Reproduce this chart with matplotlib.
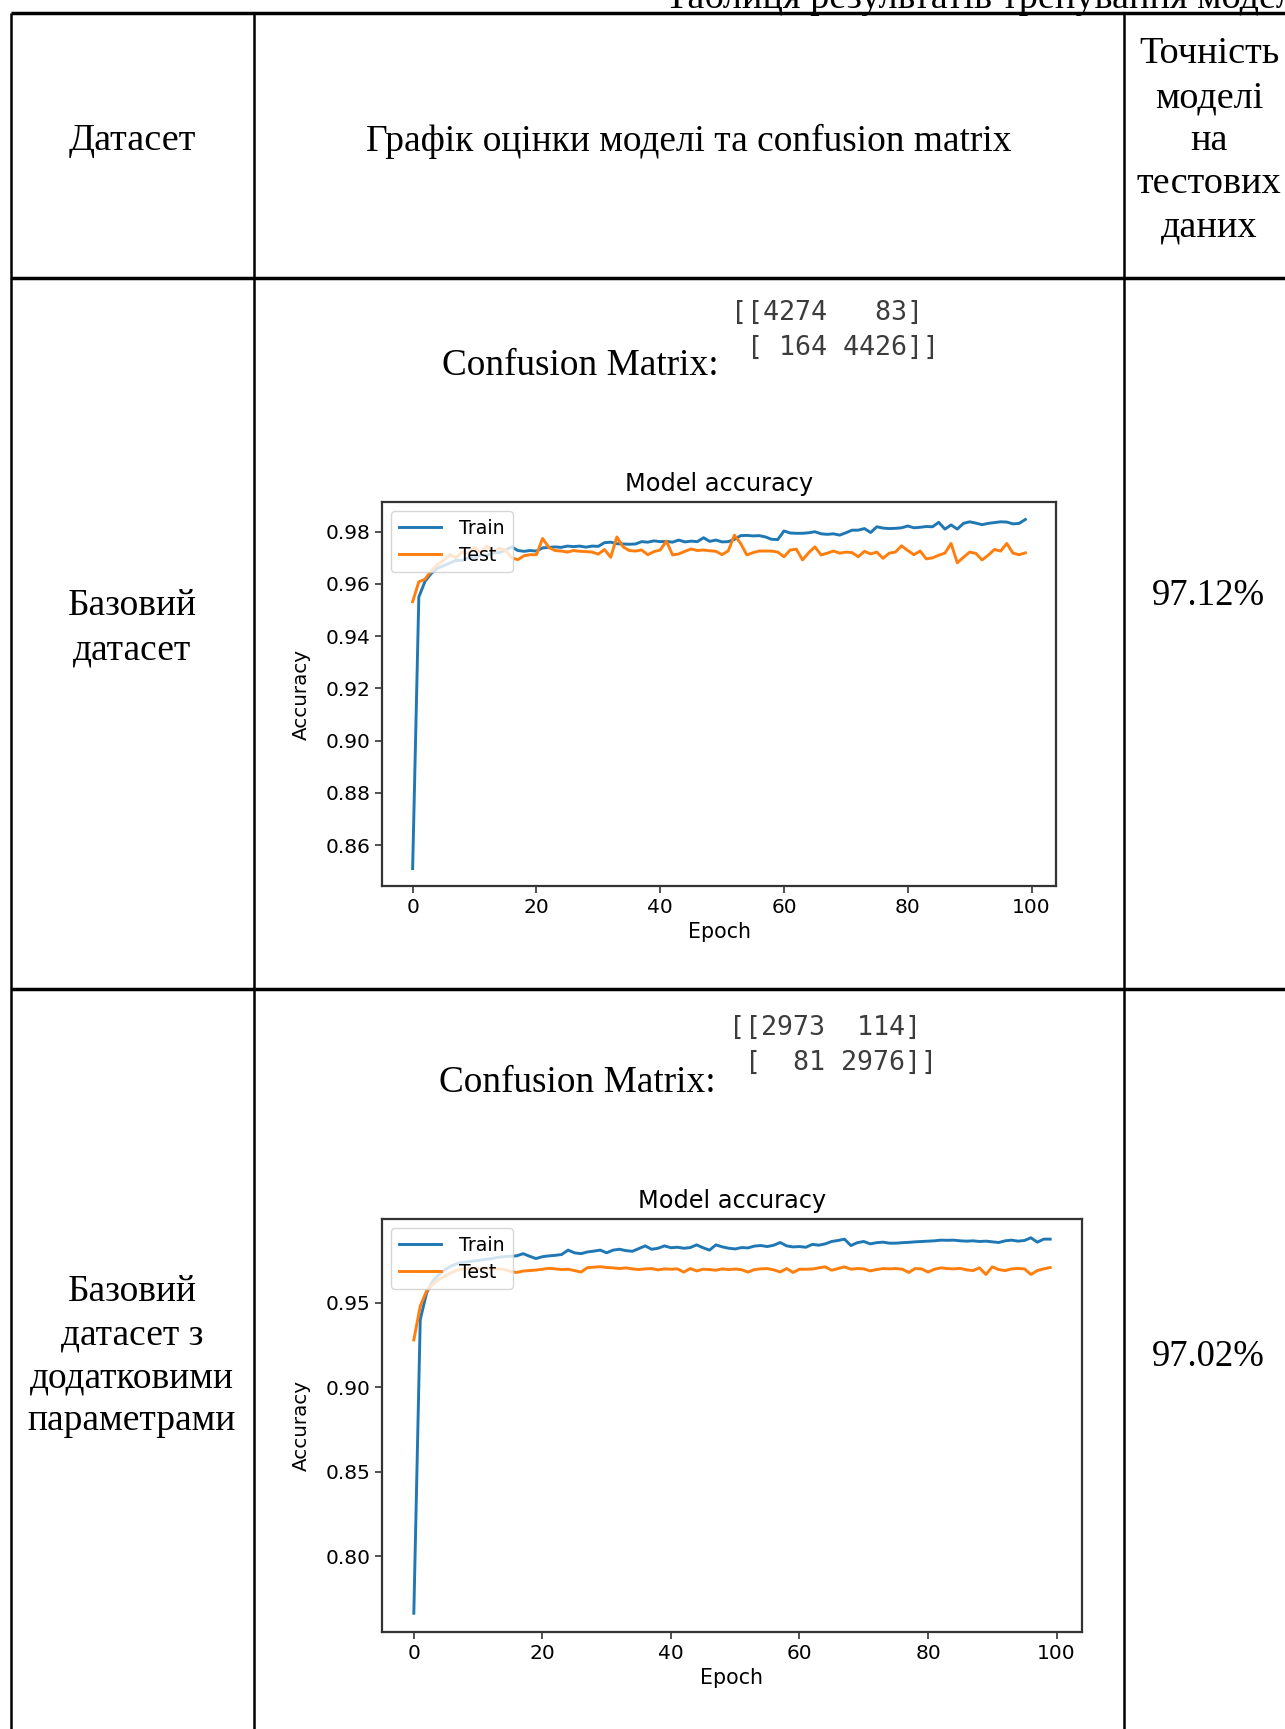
#!/usr/bin/env python3
"""
Results table: two training runs, each with its confusion matrix and the
train/test accuracy curves, laid out like the table in the report.
"""

import numpy as np
import matplotlib.pyplot as plt

# ---- data ----
epochs = np.arange(100)

train_base = [
    0.851, 0.955, 0.961, 0.964, 0.966, 0.967, 0.968, 0.969, 0.969, 0.970,
    0.970, 0.971, 0.971, 0.972, 0.972, 0.973, 0.9742, 0.9728, 0.9725, 0.9728,
    0.9726, 0.9738, 0.9740, 0.9742, 0.9740, 0.9745, 0.9743, 0.9745, 0.9741, 0.9745,
    0.9744, 0.9758, 0.9760, 0.9754, 0.9753, 0.9752, 0.9753, 0.9762, 0.9760, 0.9765,
    0.9762, 0.9763, 0.9760, 0.9768, 0.9761, 0.9764, 0.9762, 0.9777, 0.9763, 0.9768,
    0.9761, 0.9762, 0.9771, 0.9785, 0.9786, 0.9784, 0.9785, 0.9780, 0.9771, 0.9770,
    0.9803, 0.9795, 0.9794, 0.9794, 0.9796, 0.9800, 0.9792, 0.9790, 0.9792, 0.9787,
    0.9796, 0.9806, 0.9806, 0.9812, 0.9797, 0.9819, 0.9814, 0.9812, 0.9813, 0.9815,
    0.9822, 0.9815, 0.9817, 0.9820, 0.9819, 0.9836, 0.9810, 0.9826, 0.9810, 0.9832,
    0.9838, 0.9833, 0.9827, 0.9832, 0.9835, 0.9838, 0.9837, 0.9830, 0.9832, 0.9847,
]
test_base = [
    0.9532, 0.9608, 0.9618, 0.9650, 0.9675, 0.9690, 0.9712, 0.9700, 0.9722, 0.9718,
    0.9740, 0.9720, 0.9745, 0.9725, 0.9736, 0.9730, 0.9700, 0.9693, 0.9708, 0.9712,
    0.9712, 0.9774, 0.9740, 0.9728, 0.9726, 0.9722, 0.9728, 0.9725, 0.9724, 0.9722,
    0.9714, 0.9732, 0.9702, 0.9780, 0.9742, 0.9728, 0.9726, 0.9730, 0.9712, 0.9724,
    0.9730, 0.9764, 0.9711, 0.9715, 0.9725, 0.9734, 0.9728, 0.9730, 0.9727, 0.9725,
    0.9712, 0.9727, 0.9787, 0.9755, 0.9711, 0.9720, 0.9726, 0.9726, 0.9726, 0.9722,
    0.9704, 0.9730, 0.9733, 0.9692, 0.9720, 0.9742, 0.9711, 0.9718, 0.9726, 0.9718,
    0.9722, 0.9720, 0.9704, 0.9725, 0.9715, 0.9722, 0.9698, 0.9718, 0.9722, 0.9746,
    0.9728, 0.9712, 0.9726, 0.9696, 0.9700, 0.9710, 0.9718, 0.9755, 0.9681, 0.9702,
    0.9722, 0.9717, 0.9692, 0.9710, 0.9732, 0.9726, 0.9755, 0.9718, 0.9712, 0.9719,
]
train_extra = [
    0.7663, 0.940, 0.956, 0.963, 0.967, 0.970, 0.972, 0.9735, 0.974, 0.9745,
    0.975, 0.9755, 0.976, 0.9768, 0.9772, 0.9775, 0.9777, 0.9790, 0.9775, 0.9761,
    0.9772, 0.9777, 0.9780, 0.9785, 0.9811, 0.9795, 0.9790, 0.9800, 0.9805, 0.9811,
    0.9795, 0.9811, 0.9816, 0.9808, 0.9804, 0.9820, 0.9836, 0.9816, 0.9822, 0.9836,
    0.9825, 0.9828, 0.9822, 0.9826, 0.9842, 0.9825, 0.9811, 0.9842, 0.9830, 0.9822,
    0.9818, 0.9826, 0.9824, 0.9835, 0.9838, 0.9832, 0.9840, 0.9856, 0.9836, 0.9830,
    0.9832, 0.9828, 0.9845, 0.9840, 0.9848, 0.9862, 0.9868, 0.9876, 0.9838, 0.9855,
    0.9862, 0.9848, 0.9855, 0.9858, 0.9852, 0.9852, 0.9855, 0.9857, 0.9860, 0.9862,
    0.9864, 0.9866, 0.9870, 0.9869, 0.9870, 0.9866, 0.9864, 0.9866, 0.9862, 0.9864,
    0.9860, 0.9856, 0.9866, 0.9870, 0.9864, 0.9868, 0.9884, 0.9858, 0.9876, 0.9876,
]
test_extra = [
    0.928, 0.948, 0.957, 0.961, 0.964, 0.966, 0.968, 0.9695, 0.9700, 0.9702,
    0.9700, 0.9705, 0.9702, 0.9700, 0.9698, 0.9685, 0.9679, 0.9687, 0.9690, 0.9693,
    0.9698, 0.9703, 0.9700, 0.9696, 0.9698, 0.9690, 0.9681, 0.9707, 0.9710, 0.9713,
    0.9708, 0.9706, 0.9702, 0.9706, 0.9700, 0.9696, 0.9700, 0.9702, 0.9694, 0.9700,
    0.9698, 0.9700, 0.9681, 0.9702, 0.9688, 0.9698, 0.9696, 0.9692, 0.9700, 0.9696,
    0.9699, 0.9695, 0.9681, 0.9696, 0.9700, 0.9702, 0.9694, 0.9682, 0.9702, 0.9679,
    0.9698, 0.9698, 0.9699, 0.9706, 0.9712, 0.9692, 0.9702, 0.9712, 0.9698, 0.9702,
    0.9700, 0.9688, 0.9696, 0.9702, 0.9700, 0.9702, 0.9698, 0.9679, 0.9702, 0.9700,
    0.9681, 0.9698, 0.9706, 0.9702, 0.9700, 0.9703, 0.9694, 0.9690, 0.9706, 0.9667,
    0.9712, 0.9696, 0.9690, 0.9700, 0.9702, 0.9700, 0.9667, 0.9690, 0.9700, 0.9708,
]

conf_base = ["[[4274   83]", " [ 164 4426]]"]
conf_extra = ["[[2973  114]", " [  81 2976]]"]

yticks_base = [0.86, 0.88, 0.90, 0.92, 0.94, 0.96, 0.98]
yticks_extra = [0.80, 0.85, 0.90, 0.95]
xticks = [0, 20, 40, 60, 80, 100]

row_names = [["Базовий", "датасет"],
             ["Базовий", "датасет з", "додатковими", "параметрами"]]
accuracy_text = ["97.12%", "97.02%"]

# ---- page geometry (pixels) ----
W, H = 1285, 1729
SERIF = "Liberation Serif"
FS = 27.5  # table text size


def px_rect(x0, y0, x1, y1):
    """pixel box (top-left origin) -> figure fraction rect"""
    return [x0 / W, 1 - y1 / H, (x1 - x0) / W, (y1 - y0) / H]


def accuracy_plot(fig, rect, train, test, yticks):
    ax = fig.add_axes(px_rect(*rect))
    ax.plot(epochs, train, color="#1f77b4", lw=2.1, label="Train")
    ax.plot(epochs, test, color="#ff7f0e", lw=2.1, label="Test")
    ax.set_title("Model accuracy", fontsize=17.3, pad=8)
    ax.set_xlabel("Epoch", fontsize=14.8)
    ax.set_ylabel("Accuracy", fontsize=14.3, labelpad=10)
    ax.set_xticks(xticks)
    ax.set_yticks(yticks)
    ax.tick_params(labelsize=14.5, length=5, width=1.2, color="#333333")
    for s in ax.spines.values():
        s.set_linewidth(1.6)
        s.set_color("#333333")
    ax.legend(loc="upper left", fontsize=13.6, labelspacing=0.4,
              handlelength=2.2, handletextpad=1.0, borderaxespad=0.5)
    return ax


fig = plt.figure(figsize=(W / 100, H / 100), dpi=100)

# background layer in pixel coordinates for the table
bg = fig.add_axes([0, 0, 1, 1])
bg.set_xlim(0, W)
bg.set_ylim(H, 0)
bg.axis("off")

# table grid
bg.hlines([13, 278, 989], 11, W, color="black", lw=2.5)
bg.vlines([11, 254, 1124], 13, H, color="black", lw=1.8)

# caption, cut by the top edge like in the scan
bg.text(665, 8, "Таблиця результатів тренування моделі", family=SERIF,
        fontsize=FS, ha="left", va="baseline")

# header row
bg.text(132, 141, "Датасет", family=SERIF, fontsize=FS, ha="center", va="center")
bg.text(689, 141, "Графік оцінки моделі та confusion matrix", family=SERIF,
        fontsize=26.9, ha="center", va="center")
for txt, yy in zip(["Точність", "моделі", "на", "тестових", "даних"],
                   [54, 98, 141, 184, 227]):
    bg.text(1209, yy, txt, family=SERIF, fontsize=FS, ha="center", va="center")

# first column and last column per row
for names, ys in zip(row_names, [[606, 650], [1292, 1335, 1378, 1421]]):
    for txt, yy in zip(names, ys):
        bg.text(132, yy, txt, family=SERIF, fontsize=27, ha="center", va="center")
for txt, yy in zip(accuracy_text, [596, 1357]):
    bg.text(1208, yy, txt, family=SERIF, fontsize=26.5, ha="center", va="center")

# confusion matrices
for lines, y_label, ys, x_lab, x_m in [(conf_base, 375, [313, 348], 442, 731),
                                       (conf_extra, 1092, [1028, 1063], 439, 729)]:
    bg.text(x_lab, y_label, "Confusion Matrix:", family=SERIF, fontsize=26.8,
            ha="left", va="baseline")
    for txt, yy in zip(lines, ys):
        bg.text(x_m, yy, txt, family="DejaVu Sans Mono", fontsize=19.2,
                color="#3c3c3c", ha="left", va="center")

# accuracy curves
accuracy_plot(fig, (382, 502, 1056, 886), train_base, test_base, yticks_base)
accuracy_plot(fig, (382, 1219, 1082, 1632), train_extra, test_extra, yticks_extra)

fig.savefig("out.png", dpi=100)
